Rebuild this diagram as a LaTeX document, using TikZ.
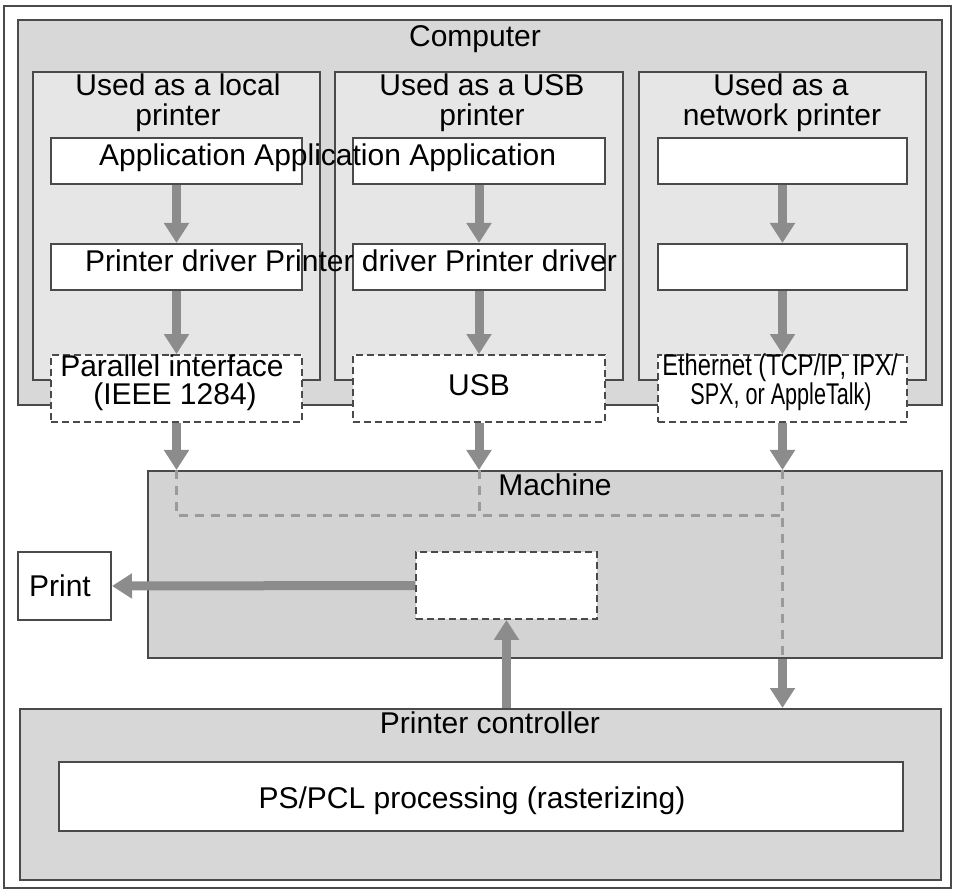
\documentclass[tikz,border=0pt]{standalone}
\usepackage{fontspec}
\usepackage{graphicx}
\setmainfont{Liberation Sans}
\usetikzlibrary{arrows.meta}
\definecolor{bord}{HTML}{4A4A4A}
\definecolor{compfill}{HTML}{D8D8D8}
\definecolor{colfill}{HTML}{E6E6E6}
\definecolor{machfill}{HTML}{D3D3D3}
\definecolor{ctrlfill}{HTML}{D7D7D7}
\definecolor{arrowgray}{HTML}{8C8C8C}
\definecolor{dashgray}{HTML}{9A9A9A}
\begin{document}
\begin{tikzpicture}[x=1pt,y=-1pt,
  font=\fontsize{30}{30}\selectfont,
  area/.style={draw=bord, line width=2pt, inner sep=0pt},
  wbox/.style={draw=bord, line width=2pt, fill=white, inner sep=0pt},
  dbox/.style={draw=bord, line width=1.8pt, fill=white, inner sep=0pt, dash pattern=on 7pt off 4pt},
  flow/.style={draw=arrowgray, line width=9pt, -{Triangle[width=24pt,length=20pt]}},
  dline/.style={draw=dashgray, line width=3pt, dash pattern=on 9pt off 7pt},
  lbl/.style={anchor=base, inner sep=0pt, text=black}]
\useasboundingbox (0,0) rectangle (954,890);
% outer frame
\draw[draw=bord, line width=1.6pt] (4,6) rectangle (951,888);

% computer area
\node[area, fill=compfill, minimum width=924pt, minimum height=385pt] (computer) at (480,212.5) {};
\node[area, fill=colfill, minimum width=287pt, minimum height=308pt] (col1) at (176.5,226) {};
\node[area, fill=colfill, minimum width=288pt, minimum height=308pt] (col2) at (479,226) {};
\node[area, fill=colfill, minimum width=287pt, minimum height=308pt] (col3) at (782.5,226) {};

\node[wbox, minimum width=251pt, minimum height=46pt] (app1) at (176.5,161) {};
\node[wbox, minimum width=252pt, minimum height=46pt] (app2) at (479,161) {};
\node[wbox, minimum width=249pt, minimum height=46pt] (app3) at (782.5,161) {};
\node[wbox, minimum width=251pt, minimum height=46pt] (drv1) at (176.5,267) {};
\node[wbox, minimum width=252pt, minimum height=46pt] (drv2) at (479,267) {};
\node[wbox, minimum width=249pt, minimum height=46pt] (drv3) at (782.5,267) {};
\node[dbox, minimum width=251pt, minimum height=67pt] (if1) at (176.5,388.5) {};
\node[dbox, minimum width=252pt, minimum height=67pt] (if2) at (479,388.5) {};
\node[dbox, minimum width=249pt, minimum height=67pt] (if3) at (782.5,388.5) {};

% machine
\node[area, fill=machfill, minimum width=794pt, minimum height=187pt] (machine) at (545,564.5) {};
\coordinate (jrow) at (0,516);
\coordinate (m1) at (if1.south |- machine.north);
\coordinate (m2) at (if2.south |- machine.north);
\coordinate (m3) at (if3.south |- machine.north);
\coordinate (m3b) at (if3.south |- machine.south);
\draw[dline] (m1) -- (m1 |- jrow) -- (m3 |- jrow);
\draw[dline] (m2) -- (m2 |- jrow);
\draw[dline] (m3) -- (m3b);
\node[dbox, minimum width=181pt, minimum height=67pt] (inner) at (506.5,585.5) {};
\node[wbox, minimum width=93pt, minimum height=68pt] (print) at (64.5,586) {};

% printer controller
\node[area, fill=ctrlfill, minimum width=921pt, minimum height=171pt] (ctrl) at (480.5,794.5) {};
\node[wbox, minimum width=844pt, minimum height=69pt] (pspcl) at (481,796.5) {};

% arrows
\draw[flow] (app1) -- (drv1);
\draw[flow] (app2) -- (drv2);
\draw[flow] (app3) -- (drv3);
\draw[flow] (drv1) -- (if1);
\draw[flow] (drv2) -- (if2);
\draw[flow] (drv3) -- (if3);
\draw[flow] (if1.south) -- (m1);
\draw[flow] (if2.south) -- (m2);
\draw[flow] (if3.south) -- (m3);
\draw[flow] (m3b) -- (m3b |- ctrl.north);
\draw[flow] (ctrl.north -| inner.south) -- (inner.south);
\draw[flow] (inner.west) -- (print.east);

% texts
\node[lbl] (tcomp) at (475,47) {Computer};
\node[lbl] (t1a) at (178,96) {Used as a local};
\node[lbl] (t1b) at (178,126) {printer};
\node[lbl] (t2a) at (482,96) {Used as a USB};
\node[lbl] (t2b) at (482,126) {printer};
\node[lbl] (t3a) at (781,96) {Used as a};
\node[lbl] (t3b) at (782,126) {network printer};
\node[anchor=base west, inner sep=0pt] (tapp) at (99,166) {Application Application Application};
\node[anchor=base west, inner sep=0pt] (tdrv) at (85,272) {Printer driver Printer driver Printer driver};
\node[lbl] (tif1a) at (172,377) {Parallel interface};
\node[lbl] (tif1b) at (175,405) {(IEEE 1284)};
\node[lbl] (tusb) at (479,396) {USB};
\node[lbl] (tif3a) at (780,376) {\scalebox{0.79}[1]{Ethernet (TCP/IP, IPX/}};
\node[lbl] (tif3b) at (781,405) {\scalebox{0.72}[1]{SPX, or AppleTalk)}};
\node[lbl] (tmach) at (555,496) {Machine};
\node[lbl] (tprint) at (60,597) {Print};
\node[lbl] (tctrl) at (490,733) {Printer controller};
\node[lbl] (tps) at (472,808) {PS/PCL processing (rasterizing)};
\end{tikzpicture}
\end{document}
